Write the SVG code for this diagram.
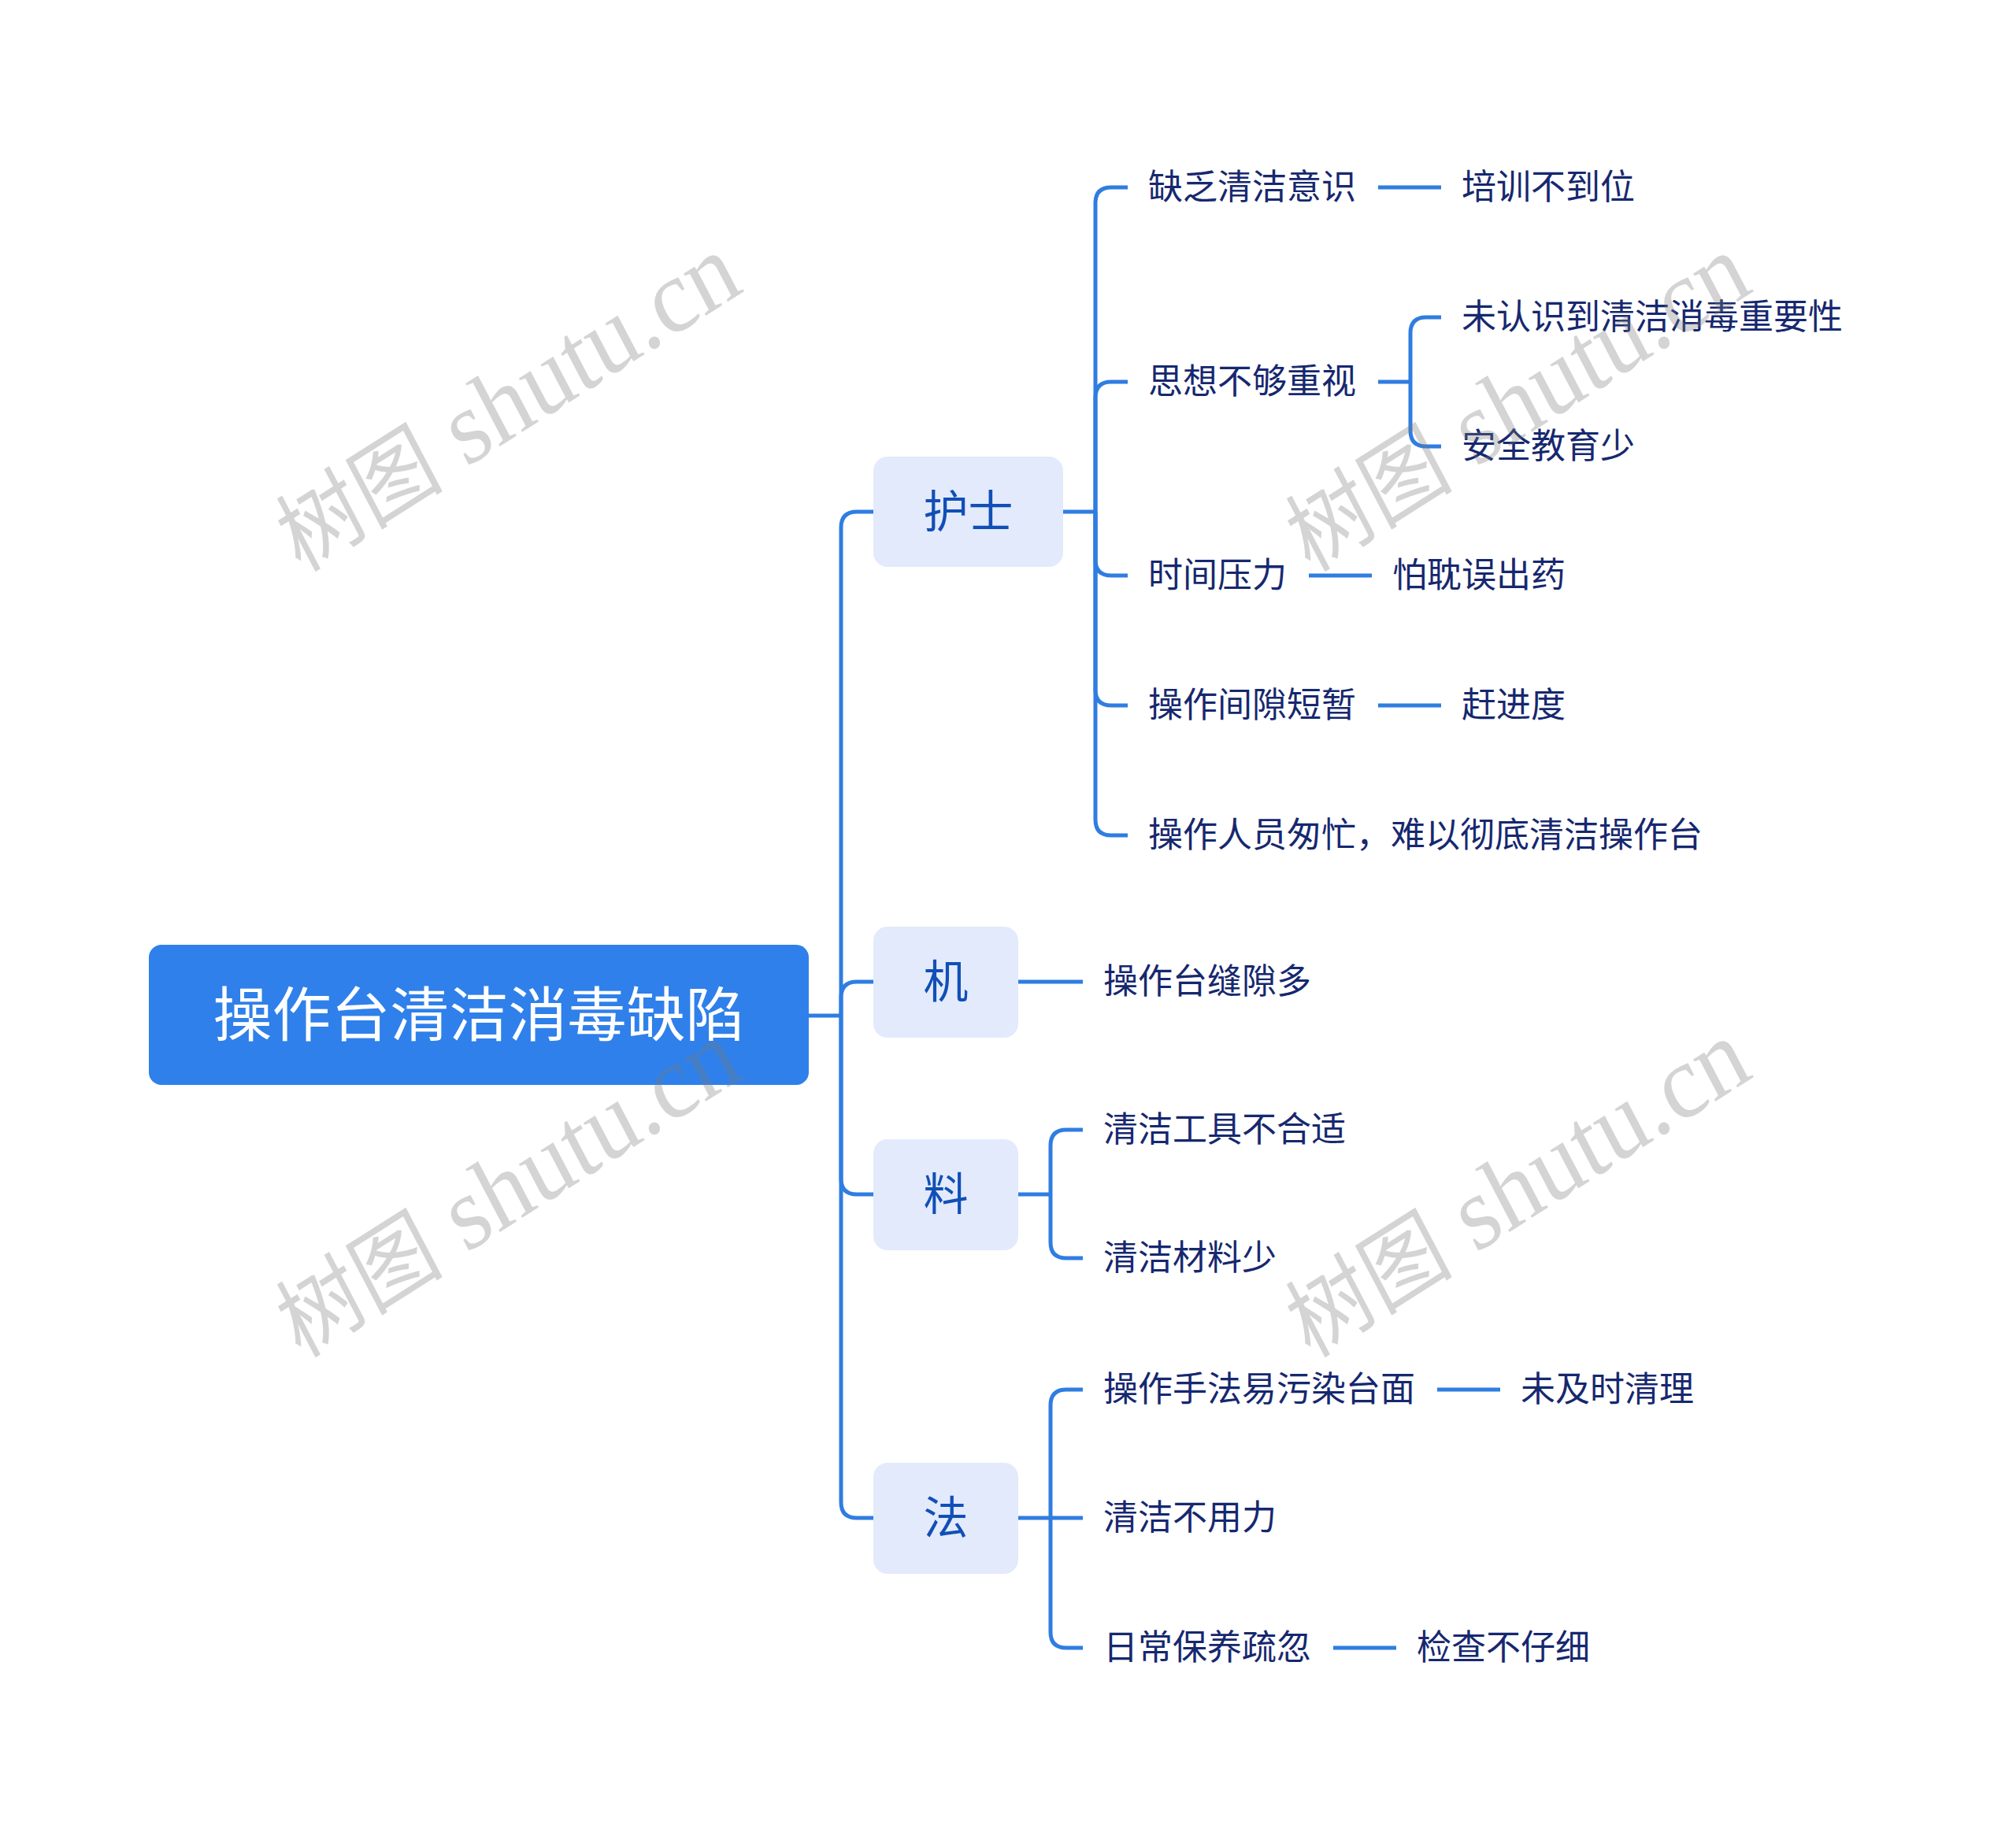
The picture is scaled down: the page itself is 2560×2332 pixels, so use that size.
<svg xmlns="http://www.w3.org/2000/svg" width="2560" height="2332" viewBox="0 0 2560 2332">
<style>
.wm{font-family:"Liberation Serif","Noto Sans CJK SC",serif;font-size:122px;fill:#7a7a7a;fill-opacity:0.32;}
.wm .cjk{font-size:106px;}
.conn path{fill:none;stroke:#2f7de1;stroke-width:5;stroke-linecap:butt;}
.root rect{fill:#2f80ea;}
.root text{font-family:"Noto Sans CJK SC","Noto Sans",sans-serif;font-size:75px;fill:#ffffff;text-anchor:middle;}
.l1 rect{fill:#e2eafc;}
.l1 text{font-family:"Noto Sans CJK SC","Noto Sans",sans-serif;font-size:57px;fill:#114fb6;text-anchor:middle;}
.l2 text{font-family:"Noto Sans CJK SC","Noto Sans",sans-serif;font-size:44px;fill:#16286f;}
</style>
<rect width="2560" height="2332" fill="#ffffff"/>
<g id="connectors" class="conn">
<path d="M1027 1290 H1068"/>
<path d="M1068 1290 V670 Q1068 650 1088 650 H1109"/>
<path d="M1068 1290 V1267 Q1068 1247 1088 1247 H1109"/>
<path d="M1068 1290 V1497 Q1068 1517 1088 1517 H1109"/>
<path d="M1068 1290 V1908 Q1068 1928 1088 1928 H1109"/>
<path d="M1350 650 H1391"/>
<path d="M1391 650 V258 Q1391 238 1411 238 H1432"/>
<path d="M1391 650 V505 Q1391 485 1411 485 H1432"/>
<path d="M1391 650 V711 Q1391 731 1411 731 H1432"/>
<path d="M1391 650 V876 Q1391 896 1411 896 H1432"/>
<path d="M1391 650 V1041 Q1391 1061 1411 1061 H1432"/>
<path d="M1750 238 H1830"/>
<path d="M1750 485 H1791"/>
<path d="M1791 485 V423 Q1791 403 1811 403 H1830"/>
<path d="M1791 485 V547 Q1791 567 1811 567 H1830"/>
<path d="M1662 731 H1742"/>
<path d="M1750 896 H1830"/>
<path d="M1293 1247 H1375"/>
<path d="M1293 1517 H1334"/>
<path d="M1334 1517 V1455 Q1334 1435 1354 1435 H1375"/>
<path d="M1334 1517 V1578 Q1334 1598 1354 1598 H1375"/>
<path d="M1293 1928 H1375"/>
<path d="M1334 1928 V1785 Q1334 1765 1354 1765 H1375"/>
<path d="M1334 1928 V2073 Q1334 2093 1354 2093 H1375"/>
<path d="M1825 1765 H1905"/>
<path d="M1693 2093 H1773"/>
</g>
<g id="root" class="root"><rect x="189" y="1200" width="838" height="178" rx="16"/><text x="608" y="1316">操作台清洁消毒缺陷</text></g>
<g id="n-hushi" class="l1"><rect x="1109" y="580" width="241" height="140" rx="18"/><text x="1229.5" y="670">护士</text></g>
<g id="n-ji" class="l1"><rect x="1109" y="1177" width="184" height="141" rx="18"/><text x="1201" y="1267">机</text></g>
<g id="n-liao" class="l1"><rect x="1109" y="1447" width="184" height="141" rx="18"/><text x="1201" y="1537">料</text></g>
<g id="n-fa" class="l1"><rect x="1109" y="1858" width="184" height="141" rx="18"/><text x="1201" y="1948">法</text></g>
<g id="n-a1" class="l2"><text x="1458" y="253">缺乏清洁意识</text></g>
<g id="n-a1a" class="l2"><text x="1856" y="253">培训不到位</text></g>
<g id="n-a2" class="l2"><text x="1458" y="500">思想不够重视</text></g>
<g id="n-a2a" class="l2"><text x="1856" y="418">未认识到清洁消毒重要性</text></g>
<g id="n-a2b" class="l2"><text x="1856" y="582">安全教育少</text></g>
<g id="n-a3" class="l2"><text x="1458" y="746">时间压力</text></g>
<g id="n-a3a" class="l2"><text x="1768" y="746">怕耽误出药</text></g>
<g id="n-a4" class="l2"><text x="1458" y="911">操作间隙短暂</text></g>
<g id="n-a4a" class="l2"><text x="1856" y="911">赶进度</text></g>
<g id="n-a5" class="l2"><text x="1458" y="1076">操作人员匆忙，难以彻底清洁操作台</text></g>
<g id="n-b1" class="l2"><text x="1401" y="1262">操作台缝隙多</text></g>
<g id="n-c1" class="l2"><text x="1401" y="1450">清洁工具不合适</text></g>
<g id="n-c2" class="l2"><text x="1401" y="1613">清洁材料少</text></g>
<g id="n-d1" class="l2"><text x="1401" y="1780">操作手法易污染台面</text></g>
<g id="n-d1a" class="l2"><text x="1931" y="1780">未及时清理</text></g>
<g id="n-d2" class="l2"><text x="1401" y="1943">清洁不用力</text></g>
<g id="n-d3" class="l2"><text x="1401" y="2108">日常保养疏忽</text></g>
<g id="n-d3a" class="l2"><text x="1799" y="2108">检查不仔细</text></g>
<g id="watermarks">
<g transform="translate(646,514) scale(1,1.1) rotate(-30)"><text class="wm" x="0" y="36" text-anchor="middle"><tspan class="cjk">树图</tspan> shutu.cn</text></g>
<g transform="translate(646,1512) scale(1,1.1) rotate(-30)"><text class="wm" x="0" y="36" text-anchor="middle"><tspan class="cjk">树图</tspan> shutu.cn</text></g>
<g transform="translate(1928,514) scale(1,1.1) rotate(-30)"><text class="wm" x="0" y="36" text-anchor="middle"><tspan class="cjk">树图</tspan> shutu.cn</text></g>
<g transform="translate(1928,1512) scale(1,1.1) rotate(-30)"><text class="wm" x="0" y="36" text-anchor="middle"><tspan class="cjk">树图</tspan> shutu.cn</text></g>
</g>
</svg>
